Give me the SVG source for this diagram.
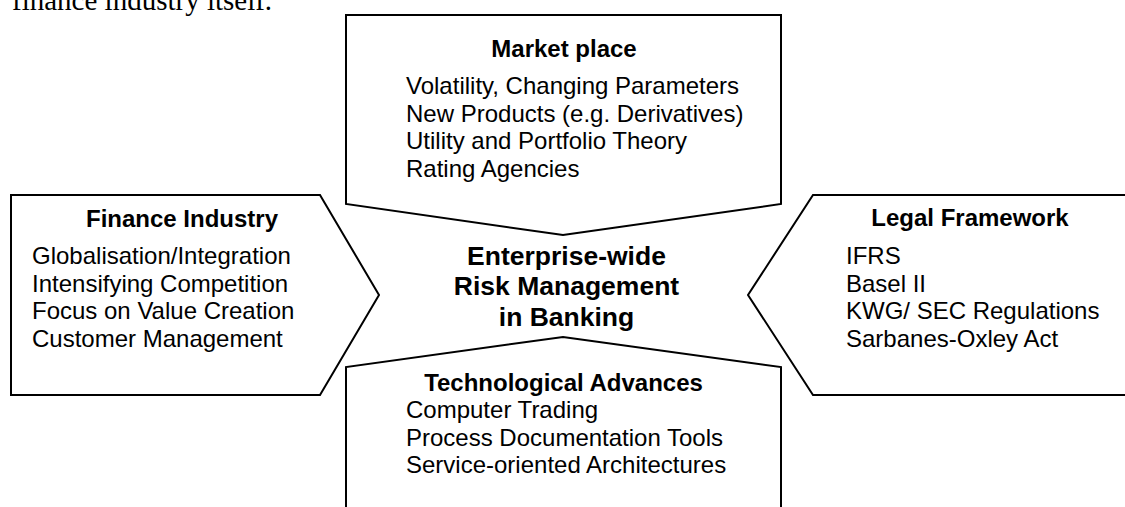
<svg xmlns="http://www.w3.org/2000/svg" width="1125" height="507" viewBox="0 0 1125 507">
<style>
.shape{fill:#fff;stroke:#000;stroke-width:2;stroke-linejoin:miter}
.t{font-family:"Liberation Sans",Arial,sans-serif;font-size:24px;fill:#000}
.b{font-weight:bold;text-anchor:middle}
.c{font-family:"Liberation Sans",Arial,sans-serif;font-size:26.5px;font-weight:bold;text-anchor:middle;fill:#000}
.s{font-family:"Liberation Serif","Times New Roman",serif;font-size:29px;fill:#000}
</style>
<rect width="1125" height="507" fill="#fff"/>
<text class="s" x="12" y="10">finance industry itself.</text>
<g id="market-place">
<polygon class="shape" points="346,15 781,15 781,204 563,235 346,204"/>
<text class="t b" x="564" y="57">Market place</text>
<text class="t" x="406" y="94">Volatility, Changing Parameters</text>
<text class="t" x="406" y="121.5">New Products (e.g. Derivatives)</text>
<text class="t" x="406" y="149">Utility and Portfolio Theory</text>
<text class="t" x="406" y="176.5">Rating Agencies</text>
</g>
<g id="finance-industry">
<polygon class="shape" points="11,195 320,195 379,295 320,395 11,395"/>
<text class="t b" x="182" y="227">Finance Industry</text>
<text class="t" x="32" y="264">Globalisation/Integration</text>
<text class="t" x="32" y="291.5">Intensifying Competition</text>
<text class="t" x="32" y="319">Focus on Value Creation</text>
<text class="t" x="32" y="346.5">Customer Management</text>
</g>
<g id="legal-framework">
<polygon class="shape" points="1135,195 813,195 748,295 813,395 1135,395"/>
<text class="t b" x="970" y="226">Legal Framework</text>
<text class="t" x="846" y="264">IFRS</text>
<text class="t" x="846" y="291.5">Basel II</text>
<text class="t" x="846" y="319">KWG/ SEC Regulations</text>
<text class="t" x="846" y="346.5">Sarbanes-Oxley Act</text>
</g>
<g id="technological-advances">
<polygon class="shape" points="346,515 346,367 563,337 781,367 781,515"/>
<text class="t b" x="563.5" y="391">Technological Advances</text>
<text class="t" x="406" y="418">Computer Trading</text>
<text class="t" x="406" y="445.5">Process Documentation Tools</text>
<text class="t" x="406" y="473">Service-oriented Architectures</text>
</g>
<g id="center">
<text class="c" x="566.5" y="264.5">Enterprise-wide</text>
<text class="c" x="566.5" y="295">Risk Management</text>
<text class="c" x="566.5" y="325.5">in Banking</text>
</g>
<g id="connectors"/>
</svg>
